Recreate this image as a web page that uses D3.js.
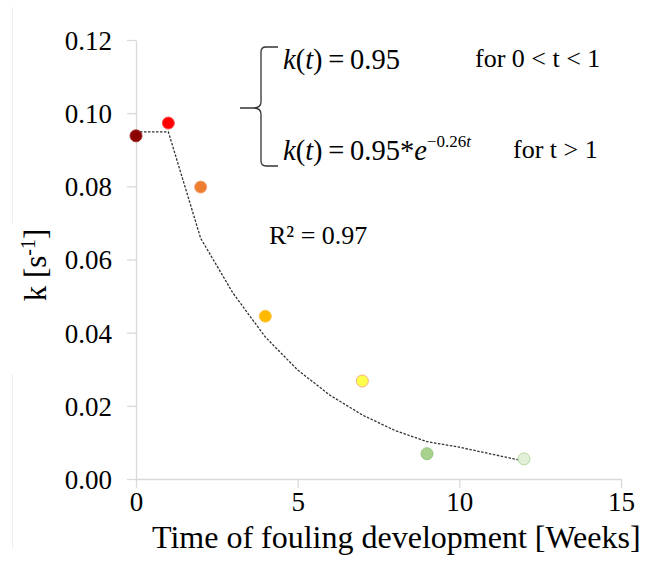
<!DOCTYPE html>
<html lang="en">
<head>
<meta charset="utf-8">
<title>k(t) vs time of fouling development</title>
<script src="https://d3js.org/d3.v7.min.js"></script>
</head>
<body style="margin:0;background:#fff">
<script>
// measured k values
var weeks = [0, 1, 2, 4, 7, 9, 12];
var kValues = [0.0938, 0.0973, 0.0798, 0.0445, 0.0268, 0.0069, 0.0055];
var fills = ["#8b0000", "#ff0000", "#ed7d31", "#ffb900", "#ffff4d", "#a9d18e", "#e2f0d9"];
var strokes = ["#a52a2a", "#ff4d4d", "#f4a070", "#ffc94d", "#f4b183", "#94c47a", "#b5d7a0"];

// fitted curve
var fitT = [0, 1, 2, 3, 4, 5, 6, 7, 8, 9, 10, 11, 12];
var fitK = [0.0949, 0.0949, 0.0658, 0.0508, 0.0388, 0.0298, 0.0229, 0.0175, 0.0133, 0.0102, 0.0087, 0.0068, 0.0049];

var xTicks = [0, 5, 10, 15];
var yTicks = [0, 0.02, 0.04, 0.06, 0.08, 0.10, 0.12];

var serif = "'Liberation Serif', 'Times New Roman', serif";
var w = 649, h = 561;
var x = d3.scaleLinear().domain([0, 15]).range([136, 621]);
var y = d3.scaleLinear().domain([0, 0.12]).range([479, 40]);

var svg = d3.select("body").append("svg")
  .attr("width", w).attr("height", h)
  .style("font-family", serif);

// faint frame line on the left edge
svg.append("line").attr("x1", 12.5).attr("x2", 12.5).attr("y1", 7).attr("y2", 223)
  .attr("stroke", "#eeeeee");
svg.append("line").attr("x1", 12.5).attr("x2", 12.5).attr("y1", 374).attr("y2", 549)
  .attr("stroke", "#eeeeee");

// axes
var xAxis = svg.append("g").attr("transform", "translate(0," + y(0) + ")")
  .call(d3.axisBottom(x).tickValues(xTicks).tickSize(9).tickSizeOuter(0).tickFormat(d3.format("d")));
var yAxis = svg.append("g").attr("transform", "translate(" + x(0) + ",0)")
  .call(d3.axisLeft(y).tickValues(yTicks).tickSize(9).tickSizeOuter(0).tickFormat(d3.format(".2f")));

[xAxis, yAxis].forEach(function(g) {
  g.attr("font-family", null);
  g.select(".domain").attr("stroke", "#d9d9d9").attr("stroke-width", 1.3);
  g.selectAll(".tick line").attr("stroke", "#d9d9d9").attr("stroke-width", 1.3);
  g.selectAll(".tick text").attr("font-size", 27).style("font-family", serif).attr("fill", "#000");
});
xAxis.selectAll(".tick text").attr("y", 13).attr("dy", "0.71em");
yAxis.selectAll(".tick text").attr("x", -24).attr("dy", "0.35em");

// axis titles
svg.append("text").attr("x", 152).attr("y", 548).attr("font-size", 32)
  .style("font-family", serif)
  .text("Time of fouling development [Weeks]");

var yt = svg.append("text").attr("transform", "translate(46,265) rotate(-90)")
  .attr("text-anchor", "middle").attr("font-size", 31).style("font-family", serif);
yt.append("tspan").text("k [s");
yt.append("tspan").attr("dy", -11).attr("font-size", 20).text("-1");
yt.append("tspan").attr("dy", 11).text("]");

// fitted dashed line
var line = d3.line().x(function(d, i) { return x(fitT[i]); }).y(function(d) { return y(d); });
svg.append("path").datum(fitK).attr("d", line)
  .attr("fill", "none").attr("stroke", "#333").attr("stroke-width", 1.3)
  .attr("stroke-dasharray", "2.5,1.5");

// measured points
svg.selectAll("circle").data(kValues).enter().append("circle")
  .attr("cx", function(d, i) { return x(weeks[i]); })
  .attr("cy", function(d) { return y(d); })
  .attr("r", 6)
  .attr("fill", function(d, i) { return fills[i]; })
  .attr("stroke", function(d, i) { return strokes[i]; })
  .attr("stroke-width", 1);

// brace
svg.append("path")
  .attr("d", "M278,47 L266,47 Q261,47 261,52 L261,102 Q261,108 253,108 L240,108 M253,108 Q261,108 261,114 L261,161 Q261,166 266,166 L278,166")
  .attr("fill", "none").attr("stroke", "#333").attr("stroke-width", 1.3);

// equations
var eq1 = svg.append("text").attr("x", 283).attr("y", 69).attr("font-size", 28.5).style("font-family", serif);
eq1.append("tspan").attr("font-style", "italic").text("k");
eq1.append("tspan").text("(");
eq1.append("tspan").attr("font-style", "italic").text("t");
eq1.append("tspan").text(")\u2009=\u20090.95");
svg.append("text").attr("x", 475).attr("y", 67).attr("font-size", 26).style("font-family", serif)
  .text("for 0 < t < 1");

var eq2 = svg.append("text").attr("x", 283).attr("y", 160).attr("font-size", 28.5).style("font-family", serif);
eq2.append("tspan").attr("font-style", "italic").text("k");
eq2.append("tspan").text("(");
eq2.append("tspan").attr("font-style", "italic").text("t");
eq2.append("tspan").text(")\u2009=\u20090.95*");
eq2.append("tspan").attr("font-style", "italic").text("e");
eq2.append("tspan").attr("dy", -13).attr("font-size", 17).text("\u22120.26");
eq2.append("tspan").attr("font-size", 17).attr("font-style", "italic").text("t");
svg.append("text").attr("x", 513).attr("y", 158).attr("font-size", 26).style("font-family", serif)
  .text("for t > 1");

svg.append("text").attr("x", 269).attr("y", 244).attr("font-size", 26).style("font-family", serif)
  .text("R\u00b2 = 0.97");
</script>
</body>
</html>
